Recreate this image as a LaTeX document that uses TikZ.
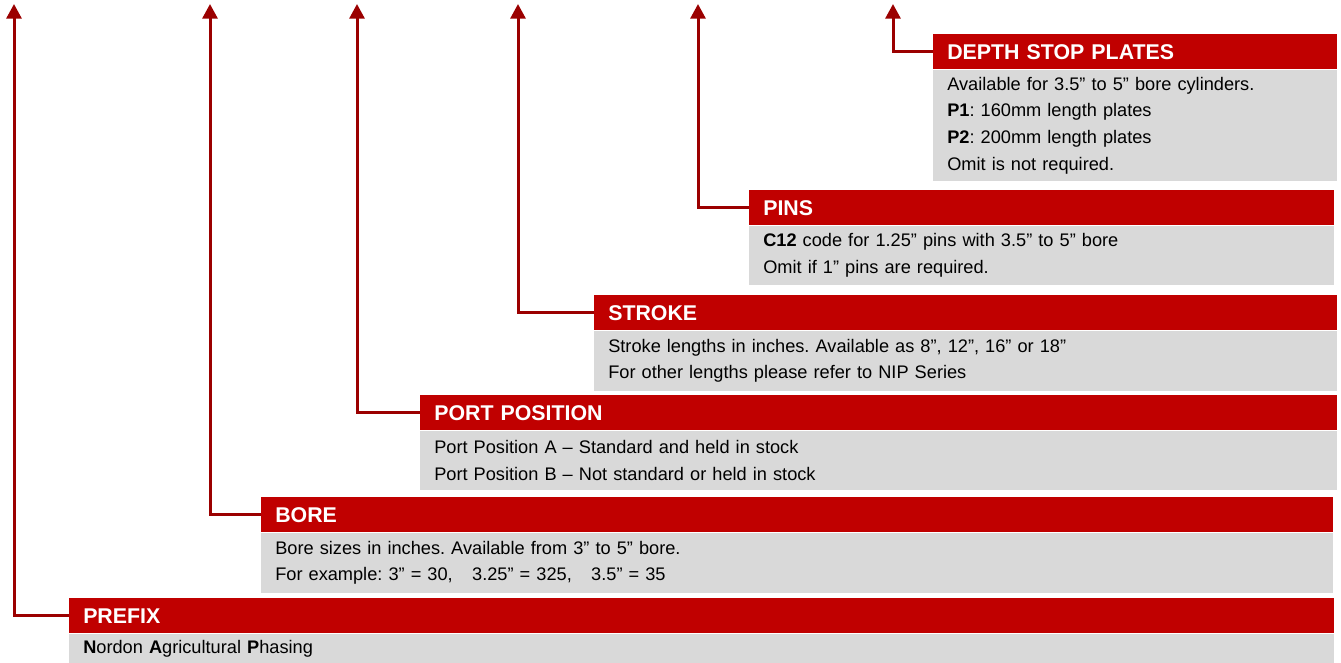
\documentclass[tikz,border=0pt]{standalone}
\usepackage{fontspec}
\setmainfont{Liberation Sans}
\usetikzlibrary{arrows.meta}
\definecolor{hdrred}{RGB}{192,0,0}
\definecolor{linkred}{RGB}{155,0,0}
\definecolor{bodygrey}{RGB}{217,217,217}
\frenchspacing

\begin{document}
\begin{tikzpicture}[x=0.75pt,y=-0.75pt,
  hdr/.style={fill=hdrred, text=white, font=\fontsize{16}{18}\selectfont\bfseries,
    anchor=north west, minimum height=26.25pt, inner xsep=10.5pt, inner ysep=0pt,
    align=left, text width=#1},
  body/.style={fill=bodygrey, text=black, font=\fontsize{13.65}{20}\selectfont,
    anchor=north west, inner xsep=10.5pt, inner ysep=0pt, align=left, text width=#1},
  link/.style={draw=linkred, line width=2.25pt, -{Triangle[width=11.25pt,length=11pt]}}]
\useasboundingbox (0,0) rectangle (1341,663);

% depth stop plates
\node[hdr=282pt] (depthhdr) at (933,34) {DEPTH STOP PLATES};
\node[body=282pt, minimum height=83.25pt] (depthbody) at (depthhdr.south west)
  {Available for 3.5” to 5” bore cylinders.\\ \textbf{P1}: 160mm length plates\\
   \textbf{P2}: 200mm length plates\\ Omit is not required.};
% pins
\node[hdr=417.75pt] (pinshdr) at (749,190) {PINS};
\node[body=417.75pt, minimum height=44.25pt] (pinsbody) at (pinshdr.south west)
  {\textbf{C12} code for 1.25” pins with 3.5” to 5” bore\\ Omit if 1” pins are required.};
% stroke
\node[hdr=536.25pt] (strokehdr) at (594,295) {STROKE};
\node[body=536.25pt, minimum height=45pt] (strokebody) at (strokehdr.south west)
  {Stroke lengths in inches. Available as 8”, 12”, 16” or 18”\\
   For other lengths please refer to NIP Series};
% port position
\node[hdr=666.75pt] (porthdr) at (420,395) {PORT POSITION};
\node[body=666.75pt, minimum height=44.25pt] (portbody) at (porthdr.south west)
  {Port Position A – Standard and held in stock\\ Port Position B – Not standard or held in stock};
% bore
\node[hdr=783pt] (borehdr) at (261,497) {BORE};
\node[body=783pt, minimum height=45pt] (borebody) at (borehdr.south west)
  {Bore sizes in inches. Available from 3” to 5” bore.\\
   For example: 3” = 30,\hspace{10pt} 3.25” = 325,\hspace{10pt} 3.5” = 35};
% prefix
\node[hdr=927.75pt] (prefixhdr) at (69,598) {PREFIX};
\node[body=927.75pt, minimum height=22.5pt] (prefixbody) at (prefixhdr.south west)
  {\textbf{N}ordon \textbf{A}gricultural \textbf{P}hasing};

% arrow tips along the top
\coordinate (prefixtip) at (14,4);
\coordinate (boretip) at (210,4);
\coordinate (porttip) at (357,4);
\coordinate (stroketip) at (518,4);
\coordinate (pinstip) at (698,4);
\coordinate (depthtip) at (893,4);

\draw[link] (prefixhdr.west) -| (prefixtip);
\draw[link] (borehdr.west) -| (boretip);
\draw[link] (porthdr.west) -| (porttip);
\draw[link] (strokehdr.west) -| (stroketip);
\draw[link] (pinshdr.west) -| (pinstip);
\draw[link] (depthhdr.west) -| (depthtip);
\end{tikzpicture}
\end{document}
